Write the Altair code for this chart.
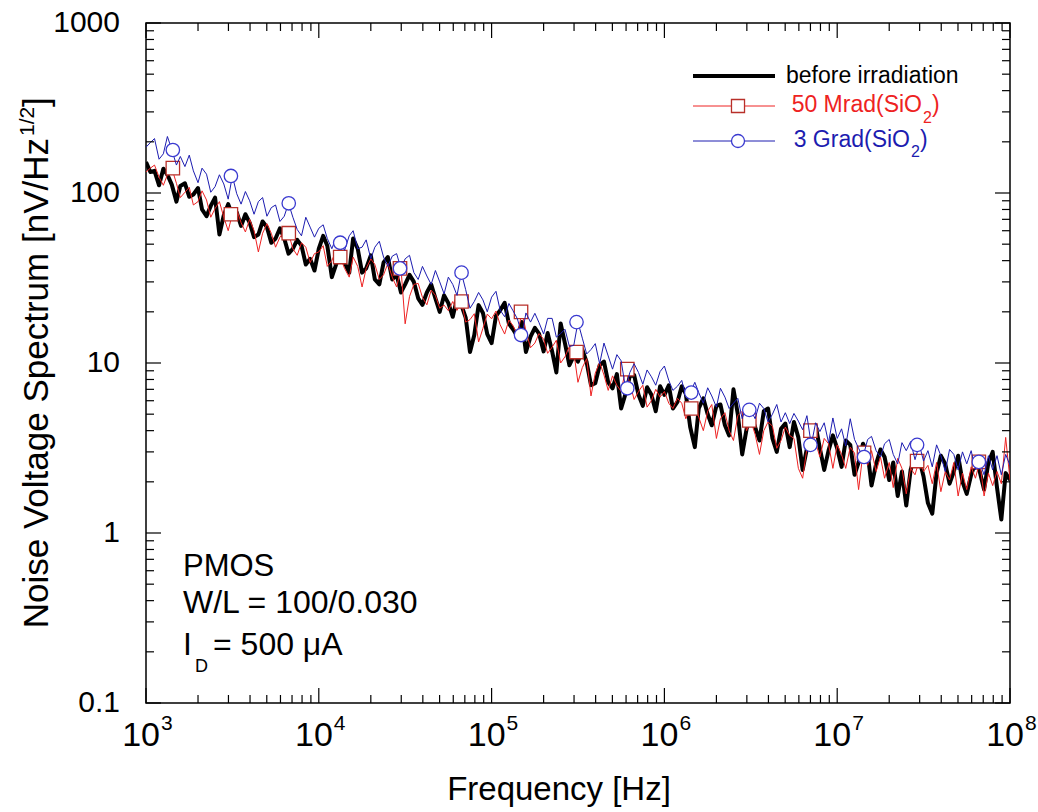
import altair as alt
import pandas as pd

# ---------------- data ----------------
MANTISSA = [1.00, 1.06, 1.12, 1.19, 1.26, 1.33, 1.41, 1.50, 1.58, 1.68,
            1.78, 1.88, 2.00, 2.11, 2.24, 2.37, 2.51, 2.66, 2.82, 2.99,
            3.16, 3.35, 3.55, 3.76, 3.98, 4.22, 4.47, 4.73, 5.01, 5.31,
            5.62, 5.96, 6.31, 6.68, 7.08, 7.50, 7.94, 8.41, 8.91, 9.44]
DECADES = [1e3, 1e4, 1e5, 1e6, 1e7]
FREQ = [m * d for d in DECADES for m in MANTISSA] + [1e8]

BEFORE = [
    152, 133, 135, 111, 139, 128, 112, 89, 110, 114,
    95, 98, 107, 80, 73, 84, 94, 57, 74, 86,
    74, 77, 64, 75, 67, 55, 57, 68, 63, 51,
    54, 62, 54, 44, 47, 53, 49, 38, 41, 35,
    47, 56, 49, 32, 38, 46, 39, 34, 54, 47,
    34, 36, 43, 31, 29, 39, 42, 31, 33, 26,
    29, 33, 30, 24, 22, 26, 29, 24, 20, 25,
    22.5, 18.7, 24, 22, 18.5, 11.6, 14.6, 21.9, 19.7, 14.8,
    13.1, 18.9, 20.4, 22.6, 17, 15.8, 14.3, 17.4, 11.6, 14.3,
    16.1, 14.9, 11.7, 15, 11.7, 8.8, 17.1, 13, 9.7, 11,
    10.2, 12, 10.1, 7.4, 7.6, 9.7, 10.2, 7.7, 7.1, 8.6,
    5.4, 6.6, 8.4, 8.5, 6.5, 5.6, 7.2, 6.5, 5.2, 7.3,
    6.5, 7.4, 5.4, 5.9, 7.3, 6.6, 4.2, 3.2, 5.4, 6.2,
    5.0, 4.3, 5.6, 5.7, 4.3, 3.75, 7.0, 5.0, 2.9, 4.1,
    4.95, 4.2, 3.5, 5.2, 5.4, 3.6, 3.0, 4.1, 4.4, 3.2,
    4.5, 3.65, 2.35, 3.15, 4.0, 4.3, 3.15, 2.35, 3.05, 3.75,
    3.15, 2.45, 3.5, 3.3, 2.2, 2.6, 3.35, 2.95, 1.9, 2.55,
    3.1, 2.8, 2.05, 2.6, 1.65, 2.3, 1.45, 2.35, 2.85, 2.7,
    2.15, 1.5, 1.3, 2.25, 2.85, 2.55, 1.95, 2.3, 2.85, 2.0,
    1.7, 2.2, 2.6, 2.3, 1.8, 2.6, 3.0, 1.85, 1.2, 2.25,
    2.05]

MRAD50 = [
    133, 140, 146, 124, 111, 128, 140, 114, 94, 101,
    108, 85, 89, 103, 91, 72, 81, 89, 72, 60,
    75, 80, 67, 59, 70, 60, 45, 58, 66, 58,
    48, 55, 59, 58, 47, 43, 51, 48, 39, 44,
    45, 49, 37, 40, 46, 42, 36, 32, 42, 37,
    28, 36, 41, 38, 31, 33, 38.5, 32, 28, 36,
    17, 24.6, 29, 29.4, 24.3, 22, 26.8, 25, 21, 21.9,
    20.3, 23, 20.4, 23, 17.4, 18, 19.5, 13.3, 16, 19.4,
    18.2, 20.2, 16.8, 14.8, 17.9, 16.6, 14.6, 20, 15.4, 12.3,
    13.1, 14.9, 13.8, 11.4, 12.4, 13.6, 10, 10.9, 12.5, 11.6,
    7.7, 9.4, 10.6, 6.4, 8.7, 10.1, 8.5, 6.9, 8.4, 7.4,
    6.8, 9.2, 7.6, 6.1, 6.8, 7.4, 5.5, 6.0, 7.0, 6.3,
    6.8, 5.8, 5.4, 6.2, 5.8, 4.7, 5.4, 5.8, 4.8, 4.0,
    5.2, 5.7, 3.6, 4.7, 5.1, 4.0, 3.5, 4.9, 5.2, 4.0,
    4.6, 3.8, 2.9, 4.0, 4.5, 4.25, 3.15, 3.5, 4.2, 3.75,
    3.6, 2.4, 2.1, 3.15, 4.0, 3.4, 2.8, 3.6, 3.35, 2.4,
    3.3, 2.9, 2.4, 3.2, 2.95, 1.8, 2.96, 2.5, 3.05, 2.3,
    2.8, 2.1, 2.6, 1.85, 2.75, 2.4, 1.7, 2.4, 2.2, 2.7,
    2.3, 2.5, 1.95, 2.6, 1.75, 2.3, 2.05, 2.6, 1.65, 2.25,
    1.8, 2.45, 2.1, 2.62, 1.65, 2.25, 1.9, 2.3, 1.95, 3.65,
    2.05]

GRAD3 = [
    186, 198, 209, 158, 170, 215, 180, 146, 164, 143,
    167, 135, 115, 140, 129, 101, 109, 128, 113, 92,
    126, 99, 86, 102, 90, 75, 89, 94, 73, 82,
    85, 68, 73, 87, 72, 61, 56, 72, 63, 55,
    62, 65, 54, 47, 55, 51, 46, 56, 60, 47,
    48, 53, 41, 48, 52, 42, 37, 42.5, 44, 36,
    41, 43, 34, 31, 37, 32.5, 29, 35, 30, 25.5,
    32, 29, 25, 34, 27, 21, 23, 26, 23.5, 20,
    24.4, 26.4, 20.5, 18.7, 22.4, 20.3, 18.2, 14.6, 19.7, 17.4,
    19.6, 17.3, 14.8, 18.3, 18.3, 14.2, 14.9, 15.8, 12.5, 12.7,
    17.4, 14, 11.3, 12, 13, 9.9, 13.1, 11, 9.2, 11.2,
    10.3, 7.1, 8.8, 9.9, 8.8, 7.5, 9.1, 8.3, 7.4, 8.9,
    9.6, 7.9, 6.9, 7.3, 7.9, 6.4, 6.7, 7.7, 6.7, 5.8,
    7.15, 6.4, 5.5, 7.1, 6.3, 5.4, 5.8, 6.2, 4.7, 5.7,
    5.3, 4.7, 5.8, 5.4, 4.5, 5.0, 5.7, 4.5, 5.1, 4.4,
    5.05, 4.55, 4.05, 4.9, 3.3, 4.45, 3.95, 4.45, 3.4, 4.75,
    3.6, 4.1, 3.25, 4.7, 3.55, 3.15, 2.8, 3.55, 3.7, 3.05,
    2.8, 3.35, 3.55, 2.9, 2.55, 3.4, 3.05, 3.45, 2.7, 3.3,
    2.65, 3.05, 2.45, 3.3, 2.85, 2.3, 3.1, 2.9, 2.35, 3.0,
    2.55, 3.05, 2.35, 2.6, 2.2, 2.85, 2.35, 2.85, 2.2, 2.9,
    2.5]

MARK_F = [1.43e3, 3.1e3, 6.7e3, 1.33e4, 2.95e4, 6.7e4, 1.48e5, 3.1e5,
          6.1e5, 1.43e6, 3.1e6, 7.0e6, 1.43e7, 2.9e7, 6.6e7]
MARK_RED = [140, 75, 58, 42, 36, 23, 20, 11.6, 9.2, 5.4, 4.6, 4.0, 2.96, 2.65, 2.62]
MARK_BLUE = [179, 126, 87, 51, 36, 34, 14.6, 17.4, 7.1, 6.7, 5.3, 3.3, 2.8, 3.3, 2.62]

X_MAJOR = [1e3, 1e4, 1e5, 1e6, 1e7, 1e8]
X_EXP = ["3", "4", "5", "6", "7", "8"]
Y_MAJOR = [0.1, 1, 10, 100, 1000]
Y_LABELS = ["0.1", "1", "10", "100", "1000"]
MINOR_MULT = [2, 3, 4, 5, 6, 7, 8, 9]

assert len(FREQ) == len(BEFORE) == len(MRAD50) == len(GRAD3)

# ---------------- styling ----------------
FONT = "Liberation Sans"
W, H = 864, 680
RED = "#ee2222"
BLUE = "#1c1cb0"
SQ_EDGE = "#b8302a"
CI_EDGE = "#3a3ad0"

xs = alt.Scale(type="log", domain=[1e3, 1e8], nice=False)
ys = alt.Scale(type="log", domain=[0.1, 1000], nice=False)


def X(field="f"):
    return alt.X(f"{field}:Q", scale=xs, axis=None)


def Y(field="v"):
    return alt.Y(f"{field}:Q", scale=ys, axis=None)


df_black = pd.DataFrame({"f": FREQ, "v": BEFORE})
df_red = pd.DataFrame({"f": FREQ, "v": MRAD50})
df_blue = pd.DataFrame({"f": FREQ, "v": GRAD3})
df_mr = pd.DataFrame({"f": MARK_F, "v": MARK_RED})
df_mb = pd.DataFrame({"f": MARK_F, "v": MARK_BLUE})

black = alt.Chart(df_black).mark_line(color="black", strokeWidth=4, clip=True,
                                      strokeJoin="round").encode(x=X(), y=Y())
red = alt.Chart(df_red).mark_line(color=RED, strokeWidth=1, clip=True).encode(x=X(), y=Y())
blue = alt.Chart(df_blue).mark_line(color=BLUE, strokeWidth=1, clip=True).encode(x=X(), y=Y())
sq = alt.Chart(df_mr).mark_point(shape="square", filled=True, fill="white", stroke=SQ_EDGE,
                                 strokeWidth=1.3, size=180, opacity=1).encode(x=X(), y=Y())
ci = alt.Chart(df_mb).mark_point(shape="circle", filled=True, fill="white", stroke=CI_EDGE,
                                 strokeWidth=1.3, size=180, opacity=1).encode(x=X(), y=Y())

# ---------------- inward ticks ----------------
x_minor = [m * d for d in DECADES for m in MINOR_MULT]
y_minor = [m * d for d in [0.1, 1, 10, 100] for m in MINOR_MULT]
df_xmaj = pd.DataFrame({"t": X_MAJOR})
df_xmin = pd.DataFrame({"t": x_minor})
df_ymaj = pd.DataFrame({"t": Y_MAJOR, "lab": Y_LABELS})
df_ymin = pd.DataFrame({"t": y_minor})

MAJ, MIN = 15, 8
ticks = []
for d, L in [(df_xmaj, MAJ), (df_xmin, MIN)]:
    ticks.append(alt.Chart(d).mark_rule(color="black", strokeWidth=1.2).encode(
        x=X("t"), y=alt.value(H), y2=alt.value(H - L)))
    ticks.append(alt.Chart(d).mark_rule(color="black", strokeWidth=1.2).encode(
        x=X("t"), y=alt.value(0), y2=alt.value(L)))
for d, L in [(df_ymaj, MAJ), (df_ymin, MIN)]:
    ticks.append(alt.Chart(d).mark_rule(color="black", strokeWidth=1.2).encode(
        y=Y("t"), x=alt.value(0), x2=alt.value(L)))
    ticks.append(alt.Chart(d).mark_rule(color="black", strokeWidth=1.2).encode(
        y=Y("t"), x=alt.value(W), x2=alt.value(W - L)))

# ---------------- tick labels ----------------
df_xl = pd.DataFrame({"f": X_MAJOR, "e": X_EXP})
xl_base = alt.Chart(df_xl).mark_text(text="10", align="right", dx=14, baseline="alphabetic",
                                     fontSize=34, font=FONT, color="black").encode(
    x=X(), y=alt.value(H + 43))
xl_exp = alt.Chart(df_xl).mark_text(align="left", dx=15, baseline="alphabetic",
                                    fontSize=21, font=FONT, color="black").encode(
    x=X(), y=alt.value(H + 27), text="e:N")
yl = alt.Chart(df_ymaj).mark_text(align="right", baseline="middle", fontSize=30,
                                  font=FONT, color="black").encode(
    y=Y("t"), x=alt.value(-26), text="lab:N")

ONE = pd.DataFrame({"a": [0]})


def txt(s, x, y, size, color="black", align="left", angle=0):
    return alt.Chart(ONE).mark_text(text=s, fontSize=size, font=FONT, color=color,
                                    align=align, baseline="alphabetic", angle=angle).encode(
        x=alt.value(x), y=alt.value(y))


texts = [
    txt("Frequency [Hz]", 413, H + 97, 33, align="center"),
    txt("Noise Voltage Spectrum [nV/Hz", -98, 115, 35, align="right", angle=270),
    txt("1/2", -112, 113, 21, angle=270),
    txt("]", -98, 84, 35, angle=270),
    txt("PMOS", 37, 553, 31),
    txt("W/L = 100/0.030", 37, 590, 32),
    txt("I", 37, 632, 32),
    txt("D", 49, 649, 18),
    txt("= 500 \u03bcA", 67, 632, 32),
    # legend texts
    txt("before irradiation", 640, 60, 23),
    txt("50 Mrad(SiO", 776, 89, 23, color=RED, align="right"),
    txt("2", 777, 100, 16, color=RED),
    txt(")", 786, 89, 23, color=RED),
    txt("3 Grad(SiO", 764, 124, 23, color=BLUE, align="right"),
    txt("2", 765, 134, 16, color=BLUE),
    txt(")", 774, 124, 23, color=BLUE),
]

legend = [
    alt.Chart(ONE).mark_rule(color="black", strokeWidth=4).encode(
        x=alt.value(547), x2=alt.value(629), y=alt.value(53)),
    alt.Chart(ONE).mark_rule(color=RED, strokeWidth=1).encode(
        x=alt.value(547), x2=alt.value(629), y=alt.value(83)),
    alt.Chart(ONE).mark_point(shape="square", filled=True, fill="white", stroke=SQ_EDGE,
                              strokeWidth=1.3, size=170, opacity=1).encode(
        x=alt.value(592), y=alt.value(83)),
    alt.Chart(ONE).mark_rule(color=BLUE, strokeWidth=1).encode(
        x=alt.value(547), x2=alt.value(629), y=alt.value(118)),
    alt.Chart(ONE).mark_point(shape="circle", filled=True, fill="white", stroke=CI_EDGE,
                              strokeWidth=1.3, size=170, opacity=1).encode(
        x=alt.value(592), y=alt.value(118)),
]

chart = alt.layer(black, red, sq, blue, ci, *ticks, xl_base, xl_exp, yl, *texts, *legend).properties(
    width=W, height=H,
    autosize=alt.AutoSizeParams(type="none"),
    padding={"left": 146, "top": 23, "right": 28, "bottom": 109},
    background="white",
).configure_view(stroke="black", strokeWidth=1.5)

chart.save("out.html", embed_options={"renderer": "svg", "actions": False})
